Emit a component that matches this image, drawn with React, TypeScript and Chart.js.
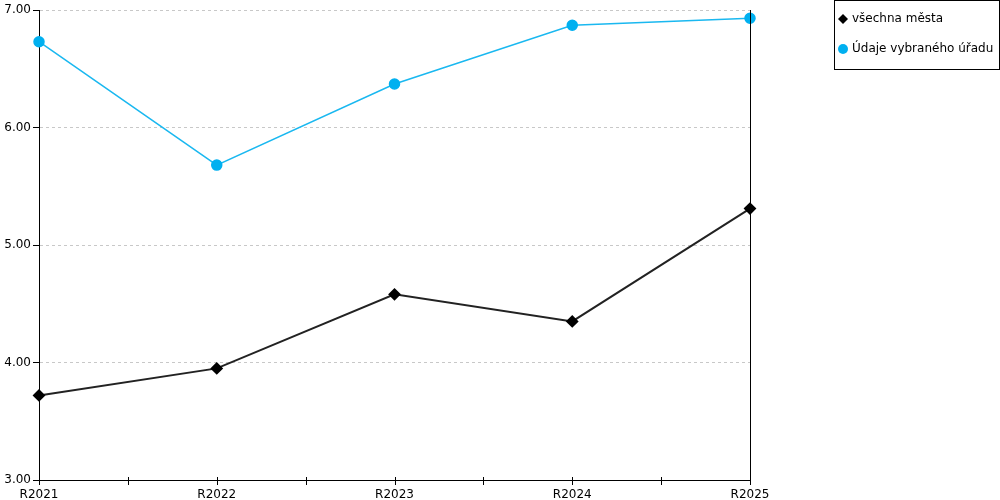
import React, { useEffect, useRef } from "react";
import { Chart, registerables } from "chart.js";

Chart.register(...registerables);

const categories = ["R2021", "R2022", "R2023", "R2024", "R2025"];
const allCities = [3.72, 3.95, 4.58, 4.35, 5.31];
const selectedOffice = [6.73, 5.68, 6.37, 6.87, 6.93];
const seriesNames = ["všechna města", "Údaje vybraného úřadu"];
const yMin = 3;
const yMax = 7;

const FONT = "DejaVu Sans";

const extrasPlugin = {
  id: "extras",
  afterDraw(chart: any) {
    const { ctx, chartArea } = chart;
    const xs = chart.scales.x;
    ctx.save();
    ctx.strokeStyle = "#000";
    ctx.lineWidth = 1;
    ctx.beginPath();
    ctx.moveTo(Math.round(chartArea.right) + 0.5, chartArea.top);
    ctx.lineTo(Math.round(chartArea.right) + 0.5, chartArea.bottom);
    ctx.stroke();
    const n = categories.length;
    for (let i = 0; i < n * 2 - 1; i++) {
      const v = i / 2;
      const px = Math.round(xs.getPixelForValue(v)) + 0.5;
      ctx.beginPath();
      ctx.moveTo(px, chartArea.bottom - 3);
      ctx.lineTo(px, chartArea.bottom + 5);
      ctx.stroke();
    }
    const bx = 834.5, by = 0.5, bw = 165, bh = 69;
    ctx.strokeRect(bx, by, bw, bh);
    ctx.font = `12px "${FONT}"`;
    ctx.textBaseline = "middle";
    ctx.textAlign = "left";
    chart.data.datasets.forEach((ds: any, i: number) => {
      const cy = 19 + i * 30;
      const cx = 843;
      ctx.fillStyle = ds.pointBackgroundColor;
      ctx.beginPath();
      if (ds.pointStyle === "rectRot") {
        ctx.moveTo(cx, cy - 5);
        ctx.lineTo(cx + 5, cy);
        ctx.lineTo(cx, cy + 5);
        ctx.lineTo(cx - 5, cy);
        ctx.closePath();
      } else {
        ctx.arc(cx, cy, 5, 0, Math.PI * 2);
      }
      ctx.fill();
      ctx.fillStyle = "#000";
      ctx.fillText(ds.label, 852, cy);
    });
    ctx.restore();
  },
};

export default function App() {
  const ref = useRef<HTMLCanvasElement>(null);
  useEffect(() => {
    if (!ref.current) return;
    const chart = new Chart(ref.current, {
      type: "line",
      data: {
        labels: categories,
        datasets: [
          {
            label: seriesNames[0],
            data: allCities,
            borderColor: "#222222",
            backgroundColor: "#000000",
            pointBackgroundColor: "#000000",
            pointBorderColor: "#000000",
            pointStyle: "rectRot",
            pointRadius: 5,
            borderWidth: 2,
            tension: 0,
          },
          {
            label: seriesNames[1],
            data: selectedOffice,
            borderColor: "#1ab8f0",
            backgroundColor: "#00b0f0",
            pointBackgroundColor: "#00b0f0",
            pointBorderColor: "#00b0f0",
            pointStyle: "circle",
            pointRadius: 5,
            borderWidth: 1.5,
            tension: 0,
          },
        ],
      },
      options: {
        animation: false,
        responsive: false,
        devicePixelRatio: 1,
        layout: { padding: { top: 10, right: 250, left: 0, bottom: 0 } },
        plugins: { legend: { display: false }, tooltip: { enabled: false } },
        scales: {
          x: {
            type: "category",
            offset: false,
            afterFit: (s: any) => {
              s.height = 20;
            },
            grid: { display: false, drawOnChartArea: false },
            border: { display: true, color: "#000", width: 1 },
            ticks: {
              color: "#000",
              font: { family: FONT, size: 12 },
              padding: 0,
              maxRotation: 0,
              autoSkip: false,
            },
          },
          y: {
            min: yMin,
            max: yMax,
            afterFit: (s: any) => {
              s.width = 39;
            },
            ticks: {
              stepSize: 1,
              color: "#000",
              font: { family: FONT, size: 12 },
              padding: 2,
              callback: (v: any) => Number(v).toFixed(2),
            },
            grid: {
              color: "#c8c8c8",
              tickColor: "#000",
              tickLength: 6,
              lineWidth: 1,
            },
            border: { display: true, color: "#000", width: 1, dash: [3, 3] },
          },
        },
      },
      plugins: [extrasPlugin],
    });
    return () => chart.destroy();
  }, []);
  return (
    <div style={{ position: "fixed", left: 0, top: 0, width: 1000, height: 500, background: "#fff" }}>
      <canvas ref={ref} width={1000} height={500} style={{ display: "block" }} />
    </div>
  );
}
